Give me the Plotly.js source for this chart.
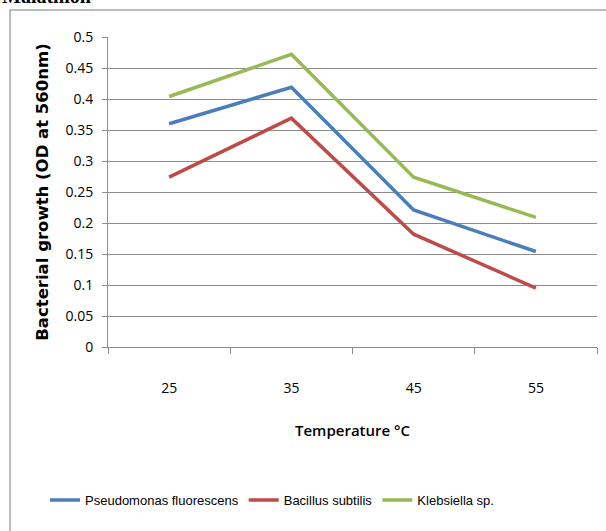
<!DOCTYPE html>
<html>
<head>
<meta charset="utf-8">
<script src="https://cdn.plot.ly/plotly-3.0.1.min.js"></script>
<style>html,body{margin:0;padding:0;background:#fff;}#chart{width:606px;height:531px;}</style>
</head>
<body>
<div id="chart"></div>
<script>
const temperatures = ["25", "35", "45", "55"];
const pseudomonas = [0.360, 0.419, 0.221, 0.154];
const bacillus = [0.274, 0.369, 0.182, 0.095];
const klebsiella = [0.404, 0.472, 0.274, 0.209];
const seriesNames = ["Pseudomonas fluorescens", "Bacillus subtilis", "Klebsiella sp."];
const seriesColors = ["#4a7ebb", "#be4b48", "#98b954"];
const yTickVals = [0, 0.05, 0.1, 0.15, 0.2, 0.25, 0.3, 0.35, 0.4, 0.45, 0.5];
const yTickText = ["0", "0.05", "0.1", "0.15", "0.2", "0.25", "0.3", "0.35", "0.4", "0.45", "0.5"];

const font = "Open Sans, sans-serif";
const narrow = "Liberation Sans, Arial, sans-serif";
const values = [pseudomonas, bacillus, klebsiella];
const traces = values.map((v, i) => ({
  type: "scatter", mode: "lines", x: temperatures, y: v, name: seriesNames[i],
  line: {color: seriesColors[i], width: 3.5}
}));

const layout = {
  width: 606, height: 531,
  margin: {l: 108, r: 9, t: 37, b: 184},
  paper_bgcolor: "#ffffff", plot_bgcolor: "#ffffff",
  showlegend: true,
  legend: {orientation: "h", x: -0.1288, xanchor: "left", y: -0.494, yanchor: "middle",
    font: {family: narrow, size: 13, color: "#000"}, itemwidth: 30, traceorder: "normal",
    bgcolor: "rgba(0,0,0,0)"},
  xaxis: {type: "category", range: [-0.5, 3.5], tickson: "boundaries", ticks: "outside",
    ticklen: 6, tickcolor: "#8c8c8c", showgrid: false, showline: true, linecolor: "#8c8c8c",
    linewidth: 1, zeroline: false, ticklabelstandoff: 28,
    tickfont: {family: font, size: 14, color: "#000"},
    title: {text: "Temperature °C", font: {family: font, size: 15, color: "#000", weight: 600}, standoff: 29}},
  yaxis: {range: [0, 0.5], tickvals: yTickVals, ticktext: yTickText, ticks: "outside",
    ticklen: 5, tickcolor: "#8c8c8c", showgrid: true, gridcolor: "#8c8c8c", gridwidth: 1,
    showline: true, linecolor: "#8c8c8c", zeroline: false, ticklabelstandoff: 6,
    tickfont: {family: font, size: 14, color: "#000"},
    title: {text: "Bacterial growth (OD at 560nm)", font: {family: "DejaVu Sans, sans-serif", size: 16.5, color: "#000", weight: "bold"}, standoff: 12}},
  shapes: [{type: "rect", xref: "paper", yref: "paper", x0: -0.2004, x1: 1.1, y0: -0.7, y1: 1.087,
    line: {color: "#a6a6a6", width: 1.5}, fillcolor: "rgba(0,0,0,0)", layer: "below"}],
  annotations: [{text: "<b>Malathion</b>", xref: "paper", yref: "paper", x: -0.221, xanchor: "left",
    y: 1.0903, yanchor: "bottom", showarrow: false, font: {family: "Liberation Serif, serif", size: 20, color: "#000"}}]
};
Plotly.newPlot("chart", traces, layout, {displayModeBar: false, staticPlot: true});
</script>
</body>
</html>
